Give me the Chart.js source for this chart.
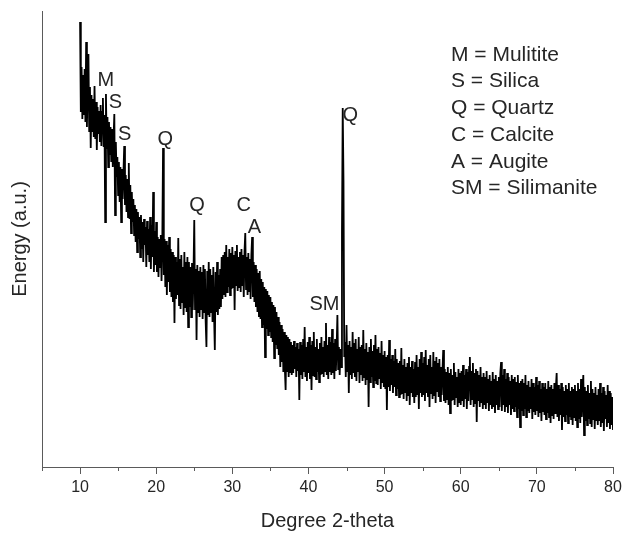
<!DOCTYPE html>
<html>
<head>
<meta charset="utf-8">
<script src="https://cdn.jsdelivr.net/npm/chart.js@4/dist/chart.umd.min.js"></script>
<style>
  html, body { margin: 0; padding: 0; background: #fff; }
  #xrd { display: block; }
</style>
</head>
<body>
<canvas id="xrd" width="622" height="533"></canvas>
<script>
// scan sampled every 0.1 deg from 10.0 to 80.0 (2-theta)
const scanStart = 10.0;
const scanStep = 0.1;

// energy, arbitrary units, one row per degree
const energy = [
  445, 355, 400, 348, 392, 352, 398, 345, 425, 340, // 10
  385, 413, 336, 380, 319, 372, 335, 368, 330, 381, // 11
  328, 365, 317, 360, 333, 356, 325, 362, 321, 355, // 12
  369, 320, 352, 245, 373, 318, 350, 300, 345, 312, // 13
  340, 305, 338, 300, 330, 353, 252, 325, 290, 310, // 14
  272, 305, 265, 300, 245, 298, 268, 295, 321, 262, // 15
  292, 255, 288, 250, 304, 248, 282, 234, 275, 245, // 16
  268, 232, 262, 225, 258, 215, 255, 228, 250, 210, // 17
  252, 218, 245, 205, 248, 222, 240, 200, 246, 212, // 18
  238, 205, 250, 198, 242, 210, 275, 195, 236, 202, // 19
  245, 195, 230, 190, 228, 200, 232, 186, 225, 319, // 20
  192, 228, 180, 226, 172, 222, 185, 230, 175, 218, // 21
  170, 215, 165, 212, 144, 210, 168, 205, 172, 229, // 22
  162, 208, 158, 212, 165, 200, 152, 215, 160, 205, // 23
  155, 210, 140, 205, 160, 200, 150, 204, 157, 195, // 24
  247, 158, 198, 127, 202, 155, 196, 150, 200, 158, // 25
  195, 148, 202, 155, 198, 145, 120, 196, 152, 205, // 26
  150, 198, 155, 192, 145, 200, 152, 117, 195, 155, // 27
  205, 152, 192, 158, 198, 160, 210, 168, 212, 172, // 28
  215, 170, 222, 175, 210, 180, 218, 172, 214, 178, // 29
  220, 180, 212, 157, 216, 182, 222, 176, 210, 180, // 30
  215, 175, 218, 182, 212, 170, 216, 234, 178, 210, // 31
  172, 214, 176, 208, 168, 212, 230, 170, 205, 165, // 32
  202, 160, 198, 155, 194, 150, 196, 148, 188, 140, // 33
  185, 142, 180, 110, 178, 138, 176, 132, 172, 135, // 34
  170, 130, 165, 125, 162, 109, 160, 122, 155, 118, // 35
  150, 112, 145, 100, 142, 105, 138,  95, 135,  98, // 36
   77, 132,  96, 130,  90, 128,  95, 125,  92, 122, // 37
   94, 126,  98, 120,  90, 124,  96, 118,  67, 125, // 38
   92, 122,  88, 128,  95, 140,  90, 120,  86, 125, // 39
   94, 130,  88, 122,  77, 126,  92, 135,  90, 120, // 40
   88, 128,  95, 118,  85, 124,  92, 130,  94, 120, // 41
   90, 126,  96, 144,  92, 122,  88, 130,  95, 125, // 42
   92, 138,  94, 124,  88, 128,  96, 120, 152,  98, // 43
  120,  92, 118, 100, 235, 359, 287, 110, 125,  90, // 44
  142,  95, 122,  74, 126,  92, 120,  88, 135,  94, // 45
  124,  90, 128,  86, 118,  95, 130,  84, 120,  92, // 46
  122,  86, 137,  90, 118,  82, 124,  88, 115,  60, // 47
  120,  85, 128,  90, 116,  80, 122,  86, 132,  84, // 48
  118,  82, 120,  88, 114,  78, 126,  84, 112,  80, // 49
  116,  78, 110,  57, 112,  80, 127,  76, 108,  82, // 50
  112,  74, 106,  80, 118,  72, 108,  78, 104,  70, // 51
  106,  72, 119,  74, 102,  68, 108,  75, 100,  66, // 52
  104,  72, 110,  62, 100,  74, 106,  70,  98,  64, // 53
  105,  70, 112,  72, 100,  58, 108,  74, 115,  70, // 54
  104,  72, 110,  66, 117,  74, 102,  70, 108,  60, // 55
  112,  74, 100,  68, 115,  72, 106,  64, 110,  76, // 56
  104,  70, 108,  66, 100,  72,  96, 117,  66,  98, // 57
   64,  95,  68, 100,  62,  94,  54,  98,  66,  92, // 58
   68, 104,  62,  95,  70,  90,  60,  98,  65,  94, // 59
   62,  96,  66, 102,  60,  92,  68,  98,  58,  95, // 60
   66, 100, 110,  62,  96,  68, 104,  60,  94,  64, // 61
   98,  45,  96,  66,  92,  60, 100,  64,  90,  58, // 62
   94,  62,  90,  58,  96,  64,  88,  56,  92,  62, // 63
   86,  58,  95,  60,  88,  54,  92,  62,  86,  58, // 64
   90,  60,  94, 105,  56,  92,  62,  98,  55,  88, // 65
   60,  94,  54,  90,  62,  86,  52,  92,  58,  88, // 66
   56,  90,  60,  85,  50,  92,  58,  84,  40,  86, // 67
   56,  88,  52,  84,  58,  92,  50,  82,  56,  86, // 68
   54,  80,  58,  88,  48,  84,  55,  80,  52,  90, // 69
   56,  82,  50,  86,  54,  78,  46,  84,  55,  80, // 70
   52,  84,  48,  78,  54,  86,  50,  80,  44,  82, // 71
   52,  78,  48,  84,  54,  80,  94,  50,  82,  46, // 72
   78,  52,  84,  37,  80,  50,  76,  46,  82,  52, // 73
   78,  44,  84,  50,  76,  48,  80,  42,  78,  50, // 74
   82,  46,  76,  40,  84,  48,  78,  44,  88,  50, // 75
   74,  92,  32,  80,  46,  76,  42,  82,  48,  74, // 76
   44,  86,  40,  78,  48,  74,  38,  80,  46,  72, // 77
   42,  78,  46,  84,  40,  74,  44,  80,  36,  76, // 78
   48,  72,  40,  82,  44,  76,  38,  74,  42,  70, // 79
   37                                              // 80
];

// phase labels placed over the peaks
const peakLabels = ["M", "S", "S", "Q", "Q", "C", "A", "SM", "Q"];
const peakLabelX = [13.4, 14.65, 15.85, 21.2, 25.35, 31.5, 32.9, 42.1, 45.5];
const peakLabelY = [387, 365, 333, 328, 262, 262, 240, 163, 352];

const keyLines = [
  "M = Mulitite",
  "S = Silica",
  "Q = Quartz",
  "C = Calcite",
  "A = Augite",
  "SM = Silimanite",
];

const xMin = 5, xMax = 80, xStep = 5;
const FONT = '"Liberation Sans", Arial, Helvetica, sans-serif';
const TEXT = "#262626";
const AXIS = "#5a5a5a";

const points = energy.map((v, i) => ({ x: +(scanStart + i * scanStep).toFixed(1), y: v }));

const minorTicks = {
  id: "minorTicks",
  afterDraw(chart) {
    const { ctx, scales } = chart;
    const xs = scales.x;
    ctx.save();
    ctx.strokeStyle = AXIS;
    ctx.lineWidth = 1;
    for (let v = xMin; v <= xMax; v += 10) {
      const px = Math.round(xs.getPixelForValue(v)) + 0.5;
      ctx.beginPath();
      ctx.moveTo(px, xs.top);
      ctx.lineTo(px, xs.top + 4);
      ctx.stroke();
    }
    ctx.restore();
  },
};

const annotations = {
  id: "annotations",
  afterDatasetsDraw(chart) {
    const { ctx, scales, chartArea } = chart;
    ctx.save();
    ctx.fillStyle = TEXT;
    ctx.font = "20px " + FONT;
    ctx.textAlign = "center";
    ctx.textBaseline = "middle";
    peakLabels.forEach((t, i) => {
      ctx.fillText(t, scales.x.getPixelForValue(peakLabelX[i]), scales.y.getPixelForValue(peakLabelY[i]));
    });
    ctx.font = "21px " + FONT;
    ctx.textAlign = "left";
    keyLines.forEach((t, i) => {
      ctx.fillText(t, 451, chartArea.top + 44 + i * 26.7);
    });
    ctx.restore();
  },
};

new Chart(document.getElementById("xrd"), {
  type: "line",
  data: {
    datasets: [
      {
        data: points,
        borderColor: "#000",
        borderWidth: 1.8,
        pointRadius: 0,
        tension: 0,
      },
    ],
  },
  options: {
    responsive: false,
    animation: false,
    layout: { padding: { top: 11, right: 9, left: 0, bottom: 0 } },
    plugins: { legend: { display: false }, tooltip: { enabled: false } },
    scales: {
      x: {
        type: "linear",
        min: xMin,
        max: xMax,
        afterFit: (s) => {
          s.height = 66;
          s.paddingLeft = 0;
          s.paddingRight = 0;
        },
        ticks: {
          stepSize: xStep,
          autoSkip: false,
          maxRotation: 0,
          padding: 4,
          color: TEXT,
          font: { family: FONT, size: 16 },
          callback: (v) => (v % 10 === 0 ? v : ""),
        },
        grid: {
          display: true,
          drawOnChartArea: false,
          tickLength: 7,
          tickColor: (c) => (c.tick && c.tick.value % 10 === 0 ? AXIS : "rgba(0,0,0,0)"),
        },
        border: { display: true, color: AXIS, width: 1 },
        title: {
          display: true,
          text: "Degree 2-theta",
          color: TEXT,
          font: { family: FONT, size: 20 },
          padding: { top: 3, bottom: 0 },
        },
      },
      y: {
        min: 0,
        max: 456,
        afterFit: (s) => { s.width = 42; },
        ticks: { display: false },
        grid: { display: false },
        border: { display: true, color: AXIS, width: 1 },
        title: {
          display: true,
          text: "Energy (a.u.)",
          color: TEXT,
          font: { family: FONT, size: 20 },
          padding: { top: 8, bottom: 0 },
        },
      },
    },
  },
  plugins: [minorTicks, annotations],
});
</script>
</body>
</html>
